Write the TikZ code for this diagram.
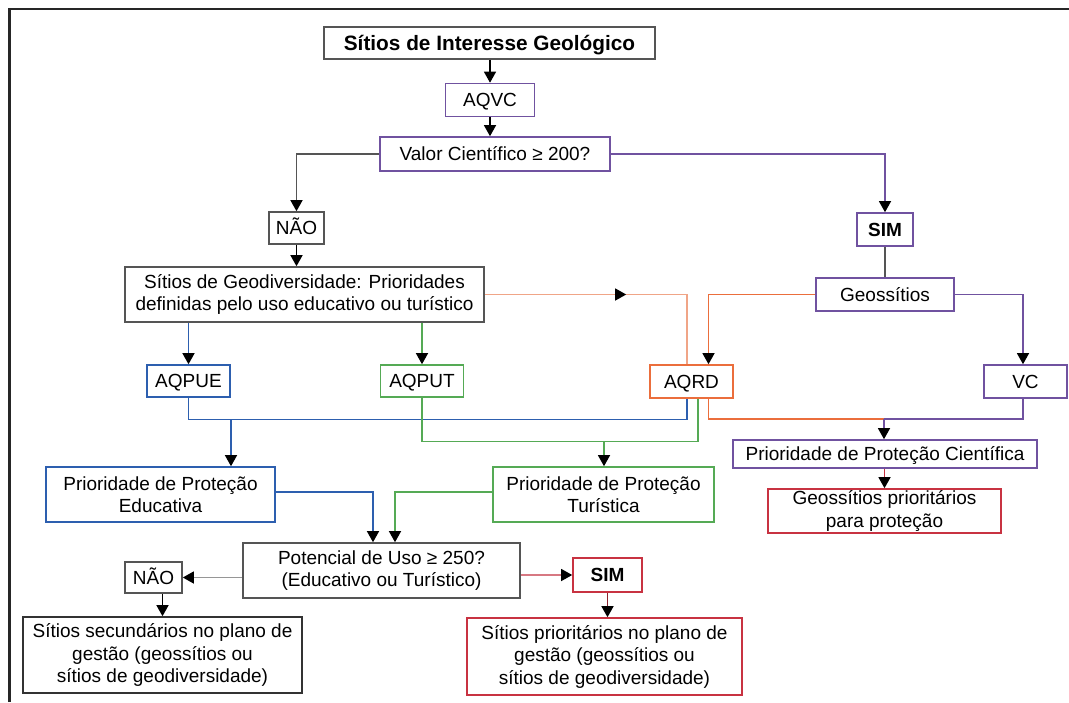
\documentclass[tikz,border=0pt]{standalone}
\usepackage{fontspec}
\setmainfont{Liberation Sans}
\usetikzlibrary{arrows.meta,decorations.markings}

\definecolor{cinza}{RGB}{85,85,85}
\definecolor{cinzaclaro}{RGB}{150,150,150}
\definecolor{roxo}{RGB}{112,82,160}
\definecolor{azul}{RGB}{45,95,175}
\definecolor{verde}{RGB}{85,170,85}
\definecolor{laranja}{RGB}{235,110,60}
\definecolor{laranjaclaro}{RGB}{240,165,135}
\definecolor{vermelho}{RGB}{200,50,65}
\definecolor{rosa}{RGB}{215,120,130}

\begin{document}
\begin{tikzpicture}[
    x=1pt, y=-1pt,
    box/.style={rectangle, draw=cinza, line width=1.6pt, inner sep=0pt, align=center, font=\fontsize{19}{22.5}\selectfont},
    single/.style={text height=13.6pt, text depth=0pt},
    flow/.style={line width=1.3pt, -{Triangle[width=12pt,length=11pt,color=black]}},
    link/.style={line width=1.3pt},
    midarrow/.style={postaction={decorate}, decoration={markings, mark=at position 0.52 with {\arrow{Triangle[width=12pt,length=11pt,color=black]}}}}
]
\useasboundingbox (0,0) rectangle (1069,702);
\draw[line width=2.5pt, black!85] (9.5,702) -- (9.5,9) -- (1069,9);

% Topo
\node[box, single, text height=14.8pt, minimum width=331pt, minimum height=32pt, font=\fontsize{20.8}{24}\selectfont\bfseries] (titulo) at (489.5,43) {Sítios de Interesse Geológico};
\node[box, single, draw=roxo, minimum width=89pt, minimum height=33pt] (aqvc) at (490,100) {AQVC};
\node[box, single, draw=roxo, minimum width=230pt, minimum height=34pt] (valor) at (495,154) {Valor Científico ≥ 200?};
\node[box, single, minimum width=55pt, minimum height=32pt] (nao1) at (296.5,228) {NÃO};
\node[box, single, draw=roxo, minimum width=56pt, minimum height=33pt, font=\fontsize{19}{22.5}\selectfont\bfseries] (sim1) at (885,229.5) {SIM};

% Sitios e geossitios
\node[box, minimum width=359pt, minimum height=55pt] (geodiv) at (304.5,294.5) {Sítios de Geodiversidade: Prioridades\\definidas pelo uso educativo ou turístico};
\node[box, single, draw=roxo, minimum width=138pt, minimum height=33pt] (geossitios) at (885,294.5) {Geossítios};

% Avaliacoes
\node[box, single, draw=azul, minimum width=83pt, minimum height=32pt] (aqpue) at (188.5,381) {AQPUE};
\node[box, single, draw=verde, minimum width=83pt, minimum height=32pt] (aqput) at (422,381) {AQPUT};
\node[box, single, draw=laranja, minimum width=83pt, minimum height=33pt] (aqrd) at (691.5,381.5) {AQRD};
\node[box, single, draw=roxo, minimum width=83pt, minimum height=33pt] (vc) at (1025.5,381.5) {VC};

% Prioridades
\node[box, draw=azul, minimum width=229pt, minimum height=55pt] (educ) at (160.5,494.5) {Prioridade de Proteção\\Educativa};
\node[box, draw=verde, minimum width=221pt, minimum height=55pt] (turis) at (603.5,494.5) {Prioridade de Proteção\\Turística};
\node[box, single, draw=roxo, minimum width=304pt, minimum height=28pt] (cient) at (885,454) {Prioridade de Proteção Científica};
\node[box, draw=vermelho, minimum width=233pt, minimum height=44pt] (geoprio) at (884.5,511) {Geossítios prioritários\\para proteção};

% Uso potencial
\node[box, minimum width=277pt, minimum height=55pt] (potencial) at (381.5,570.5) {Potencial de Uso ≥ 250?\\(Educativo ou Turístico)};
\node[box, single, minimum width=57pt, minimum height=31pt] (nao2) at (153.5,577.5) {NÃO};
\node[box, single, draw=vermelho, minimum width=69pt, minimum height=34pt, font=\fontsize{19}{22.5}\selectfont\bfseries] (sim2) at (607.5,575) {SIM};
\node[box, draw=black!80, minimum width=279pt, minimum height=76pt] (sec) at (162.5,655) {Sítios secundários no plano de\\gestão (geossítios ou\\sítios de geodiversidade)};
\node[box, draw=vermelho, minimum width=275pt, minimum height=77pt] (prio) at (604.5,656.5) {Sítios prioritários no plano de\\gestão (geossítios ou\\sítios de geodiversidade)};

% Pontos de juncao
\coordinate (jazul) at (231,419);
\coordinate (jverde) at (604,441);
\coordinate (jcient) at (884,419);

% Fluxo principal
\draw[flow] (titulo.south -| aqvc) -- (aqvc.north);
\draw[flow] (aqvc.south) -- (aqvc.south |- valor.north);
\draw[flow, draw=cinza] (valor.west) -| (nao1.north);
\draw[flow, draw=roxo] (valor.east) -| (sim1.north);
\draw[link, draw=cinza] (sim1.south) -- (geossitios.north);
\draw[flow] (nao1.south) -- (nao1.south |- geodiv.north);

% Ramos das avaliacoes
\draw[link, draw=laranjaclaro, midarrow] (geodiv.east) -| ([xshift=-4.5pt]aqrd.north);
\draw[flow, draw=laranja] (geossitios.west) -| ([xshift=17pt]aqrd.north);
\draw[flow, draw=roxo] (geossitios.east) -| ([xshift=-2.5pt]vc.north);
\draw[flow, draw=azul] (geodiv.south -| aqpue) -- (aqpue.north);
\draw[flow, draw=verde] (geodiv.south -| aqput) -- (aqput.north);

% Ligacoes as prioridades
\draw[link, draw=azul] (aqpue.south) -- ++(0,22) -| ([xshift=-4.5pt]aqrd.south);
\draw[flow, draw=azul] (jazul) -- (jazul |- educ.north);
\draw[link, draw=verde] (aqput.south) -- ++(0,44) -| ([xshift=6.5pt]aqrd.south);
\draw[flow, draw=verde] (jverde) -- (jverde |- turis.north);
\draw[link, draw=laranja] ([xshift=17pt]aqrd.south) |- (jcient);
\draw[link, draw=roxo] ([xshift=-2.5pt]vc.south) |- (jcient);
\draw[flow, draw=roxo] (jcient) -- (jcient |- cient.north);
\draw[flow, draw=vermelho] (cient.south -| geoprio) -- (geoprio.north);

% Uso potencial
\draw[flow, draw=azul] ([yshift=2.5pt]educ.east) -| ([xshift=-8.5pt]potencial.north);
\draw[flow, draw=verde] ([yshift=2.5pt]turis.west) -| ([xshift=13.5pt]potencial.north);
\draw[flow, draw=cinzaclaro] (potencial.west |- nao2) -- (nao2.east);
\draw[flow, draw=rosa] (potencial.east |- sim2) -- (sim2.west);
\draw[flow] (nao2.south -| sec) -- (sec.north);
\draw[flow, draw=vermelho!70!black] (sim2.south) -- (sim2.south |- prio.north);

\end{tikzpicture}
\end{document}
